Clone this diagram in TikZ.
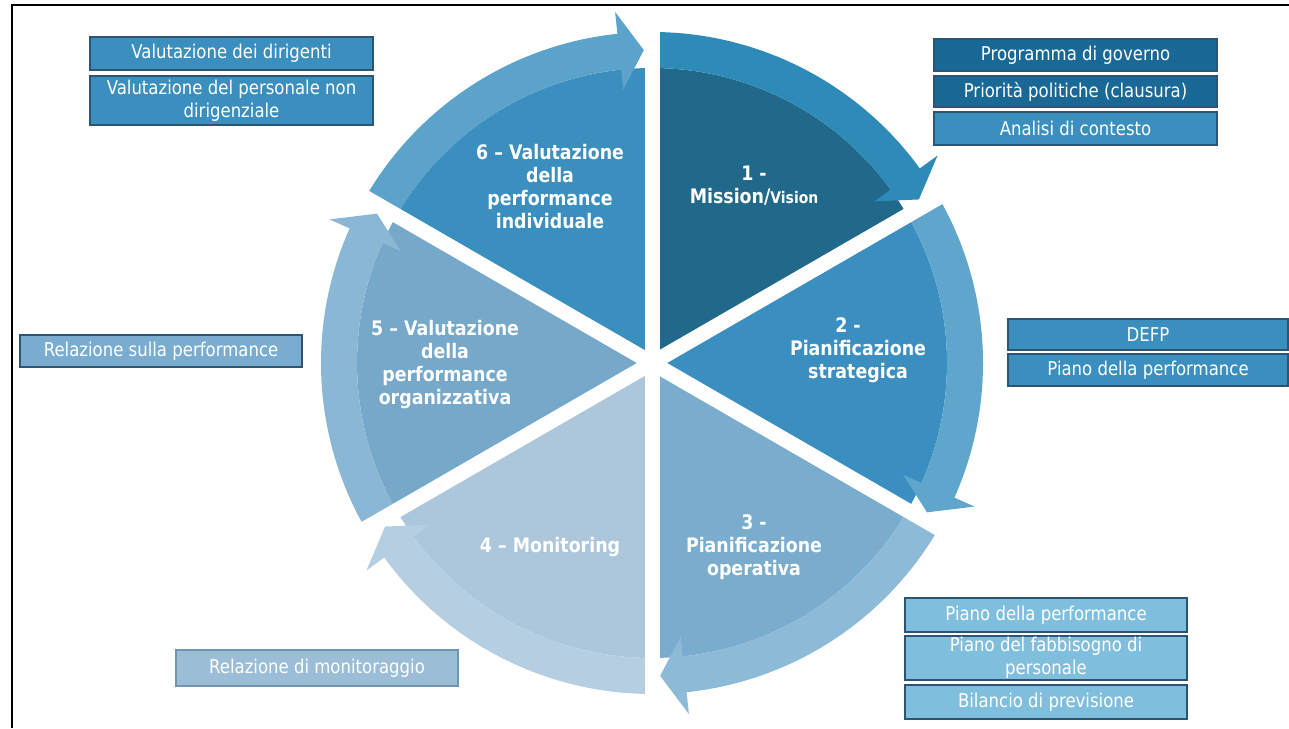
\documentclass[tikz,border=0pt]{standalone}
\usepackage{fontspec}
\setmainfont{DejaVu Sans}[FakeStretch=0.87]
\definecolor{s1p}{RGB}{33,105,138}
\definecolor{s1b}{RGB}{46,139,183}
\definecolor{s2p}{RGB}{58,143,192}
\definecolor{s2b}{RGB}{95,165,204}
\definecolor{s3p}{RGB}{122,172,206}
\definecolor{s3b}{RGB}{140,186,215}
\definecolor{s4p}{RGB}{172,199,219}
\definecolor{s4b}{RGB}{182,206,225}
\definecolor{s5p}{RGB}{118,168,202}
\definecolor{s5b}{RGB}{138,183,213}
\definecolor{s6p}{RGB}{58,143,190}
\definecolor{s6b}{RGB}{92,163,203}
\definecolor{bdark}{RGB}{25,104,150}
\definecolor{bmid}{RGB}{58,143,190}
\definecolor{blight}{RGB}{128,190,222}
\definecolor{brel}{RGB}{122,172,207}
\definecolor{bmon}{RGB}{155,189,214}
\definecolor{boxline}{RGB}{45,85,115}
\definecolor{monline}{RGB}{110,150,180}
\begin{document}
\begin{tikzpicture}[x=1pt,y=1pt,
  box/.style={draw=boxline, line width=1.3pt, minimum width=283pt, inner sep=0pt,
    text=white, align=center, font=\fontsize{19}{23}\selectfont},
  lab/.style={text=white, align=center, font=\bfseries\fontsize{20}{23}\selectfont}]
\useasboundingbox (0,0) rectangle (1289,728);
\fill[white] (0,0) rectangle (1289,728);
% cycle
\begin{scope}[shift={(652,365)}]
\foreach \s/\pc in {90/s1p,30/s2p,-30/s3p,-90/s4p,-150/s5p,150/s6p}{
  \pgfmathsetmacro\e{\s-60}
  \fill[\pc] (0,0) -- (\s:295pt) arc[start angle=\s, end angle=\e, radius=295pt] -- cycle;
}
\foreach \s/\bc in {90/s1b,30/s2b,-30/s3b,-90/s4b,-150/s5b,150/s6b}{
  \pgfmathsetmacro\h{\s-54}
  \pgfmathsetmacro\t{\s-58.5}
  \fill[\bc] (\s:295pt) -- (\s:331pt) arc[start angle=\s, end angle=\h, radius=331pt]
    -- (\h:353pt) -- (\t:313pt) -- (\h:275pt) -- (\h:295pt)
    arc[start angle=\h, end angle=\s, radius=295pt] -- cycle;
}
\foreach \a in {90,30,-30,-90,-150,150}
  \draw[white, line width=15pt] (0,0) -- (\a:345pt);
\end{scope}
% frame
\draw[line width=2pt] (12,0) -- (12,723) -- (1289,723);
% sector labels
\node[lab] (l1) at (754,542) {1 -\\Mission/{\fontsize{16}{23}\selectfont Vision}};
\node[lab] (l2) at (858,378) {2 -\hspace*{20pt}\\Pianificazione\\strategica};
\node[lab] (l3) at (754,181) {3 -\\Pianificazione\\operativa};
\node[lab] (l4) at (550,181) {4 – Monitoring};
\node[lab] (l5) at (445,363) {5 – Valutazione\\della\\performance\\organizzativa};
\node[lab] (l6) at (550,541) {6 – Valutazione\\della\\performance\\individuale};
% boxes
\node[box, fill=bmid, minimum height=33pt] (b1a) at (231.5,674.5) {Valutazione dei dirigenti};
\node[box, fill=bmid, minimum height=49pt] (b1b) at (231.5,627.5) {Valutazione del personale non\\dirigenziale};
\node[box, fill=bdark, minimum height=32pt] (b2a) at (1075.5,673) {Programma di governo};
\node[box, fill=bdark, minimum height=31pt] (b2b) at (1075.5,636.5) {Priorità politiche (clausura)};
\node[box, fill=bmid, minimum height=33pt] (b2c) at (1075.5,599.5) {Analisi di contesto};
\node[box, fill=bmid, minimum height=31pt, minimum width=280pt] (b3a) at (1148,393.5) {DEFP};
\node[box, fill=bmid, minimum height=32pt, minimum width=280pt] (b3b) at (1148,358) {Piano della performance};
\node[box, fill=blight, minimum height=34pt, minimum width=282pt] (b4a) at (1046,113) {Piano della performance};
\node[box, fill=blight, minimum height=44pt, minimum width=282pt] (b4b) at (1046,70) {Piano del fabbisogno di\\personale};
\node[box, fill=blight, minimum height=34pt, minimum width=282pt] (b4c) at (1046,26) {Bilancio di previsione};
\node[box, fill=brel, minimum height=32pt, minimum width=282pt] (b5) at (161,377) {Relazione sulla performance};
\node[box, draw=monline, fill=bmon, minimum height=36pt, minimum width=282pt] (b6) at (317,60) {Relazione di monitoraggio};
\end{tikzpicture}
\end{document}
